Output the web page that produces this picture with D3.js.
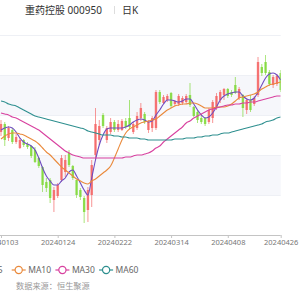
<!DOCTYPE html>
<html>
<head>
<meta charset="utf-8">
<script src="https://cdn.jsdelivr.net/npm/d3@7"></script>
<style>
  body { margin: 0; background: #fff; }
  svg { display: block; }
  text { font-family: "Noto Sans", "Noto Sans CJK SC", sans-serif; }
</style>
</head>
<body>
<div id="chart"></div>
<script>
// trading days shown on the category axis
const dates = ["20240103","20240104","20240105","20240108","20240109","20240110","20240111","20240112","20240115","20240116",
  "20240117","20240118","20240119","20240122","20240123","20240124","20240125","20240126","20240129","20240130",
  "20240131","20240201","20240202","20240205","20240206","20240207","20240208","20240219","20240220","20240221",
  "20240222","20240223","20240226","20240227","20240228","20240229","20240301","20240304","20240305","20240306",
  "20240307","20240308","20240311","20240312","20240313","20240314","20240315","20240318","20240319","20240320",
  "20240321","20240322","20240325","20240326","20240327","20240328","20240329","20240401","20240402","20240403",
  "20240408","20240409","20240410","20240411","20240412","20240415","20240416","20240417","20240418","20240419",
  "20240422","20240423","20240424","20240425","20240426"];
const tickDates = ["20240103","20240124","20240222","20240314","20240408","20240426"];

const open = [4.03,4.11,3.97,4.05,3.93,3.87,3.95,3.91,3.89,3.85,
  3.77,3.68,3.53,3.55,3.35,3.39,3.55,3.63,3.82,3.69,
  3.55,3.45,3.37,3.25,3.40,3.80,3.95,4.20,3.95,4.03,
  4.13,4.05,4.05,4.14,4.17,4.03,4.07,4.17,4.21,4.05,
  4.07,4.07,4.43,4.32,4.35,4.42,4.31,4.31,4.32,4.33,
  4.40,4.28,4.23,4.17,4.17,4.13,4.17,4.27,4.35,4.40,
  4.46,4.43,4.50,4.37,4.40,4.25,4.35,4.31,4.40,4.68,
  4.73,4.63,4.50,4.51,4.62];
const close = [4.11,3.95,4.07,3.93,3.98,3.95,3.90,3.88,3.79,3.73,
  3.69,3.50,3.47,3.37,3.45,3.50,3.77,3.75,3.70,3.57,
  3.40,3.38,3.23,3.45,3.70,4.11,4.09,4.09,4.07,4.13,
  4.05,4.11,4.14,4.08,4.08,4.11,4.19,4.27,4.13,4.13,
  4.17,4.43,4.33,4.38,4.39,4.29,4.34,4.39,4.37,4.39,
  4.30,4.19,4.15,4.13,4.11,4.25,4.33,4.39,4.43,4.46,
  4.39,4.40,4.42,4.46,4.27,4.35,4.25,4.37,4.73,4.62,
  4.62,4.51,4.58,4.59,4.45];
const high = [4.15,4.13,4.09,4.07,4.01,3.97,3.96,3.93,3.90,3.88,
  3.78,3.69,3.57,3.57,3.48,3.52,3.80,3.80,3.85,3.70,
  3.55,3.47,3.39,3.48,3.75,4.27,4.15,4.22,4.09,4.17,
  4.15,4.15,4.16,4.17,4.35,4.13,4.23,4.32,4.23,4.15,
  4.19,4.45,4.45,4.40,4.41,4.43,4.35,4.41,4.39,4.41,
  4.52,4.29,4.25,4.21,4.18,4.27,4.35,4.42,4.45,4.47,
  4.47,4.45,4.58,4.48,4.41,4.37,4.40,4.39,4.78,4.71,
  4.80,4.65,4.60,4.61,4.65];
const low = [3.99,3.89,3.94,3.91,3.91,3.86,3.88,3.86,3.77,3.72,
  3.67,3.43,3.43,3.32,3.23,3.37,3.53,3.58,3.68,3.55,
  3.37,3.35,3.12,3.13,3.28,3.75,3.90,4.07,3.92,4.01,
  4.03,4.03,4.04,4.06,4.06,4.01,4.05,4.14,4.11,4.02,
  4.03,4.05,4.31,4.31,4.33,4.27,4.29,4.29,4.30,4.31,
  4.28,4.18,4.12,4.11,4.09,4.11,4.12,4.25,4.32,4.35,
  4.37,4.38,4.41,4.35,4.18,4.21,4.23,4.29,4.38,4.59,
  4.60,4.49,4.47,4.49,4.43];

const ma5 = [4.05,4.07,4.08,4.07,4.03,3.97,3.93,3.91,3.89,3.85,
  3.77,3.67,3.59,3.54,3.50,3.50,3.54,3.57,3.63,3.65,
  3.59,3.52,3.45,3.40,3.57,3.75,3.90,4.00,4.06,4.07,
  4.07,4.07,4.07,4.08,4.10,4.13,4.15,4.16,4.15,4.13,
  4.14,4.20,4.25,4.31,4.35,4.35,4.34,4.33,4.34,4.36,
  4.36,4.31,4.25,4.20,4.17,4.18,4.22,4.28,4.35,4.39,
  4.41,4.42,4.43,4.43,4.39,4.36,4.35,4.37,4.43,4.50,
  4.57,4.61,4.62,4.60,4.55];
const ma10 = [3.96,3.99,4.01,4.02,4.02,4.01,4.00,3.98,3.96,3.94,
  3.91,3.87,3.83,3.80,3.76,3.72,3.68,3.65,3.62,3.59,
  3.56,3.54,3.52,3.51,3.54,3.56,3.59,3.62,3.65,3.69,
  3.77,3.86,3.95,4.02,4.06,4.08,4.10,4.12,4.13,4.14,
  4.15,4.16,4.19,4.22,4.25,4.27,4.29,4.30,4.31,4.31,
  4.32,4.32,4.31,4.29,4.27,4.27,4.27,4.28,4.28,4.28,
  4.29,4.31,4.34,4.37,4.38,4.39,4.40,4.41,4.43,4.46,
  4.48,4.50,4.51,4.52,4.53];
const ma30 = [4.22,4.21,4.20,4.18,4.17,4.15,4.13,4.11,4.09,4.07,
  4.05,4.02,3.99,3.96,3.93,3.90,3.87,3.84,3.82,3.80,
  3.79,3.78,3.77,3.77,3.77,3.77,3.77,3.77,3.77,3.77,
  3.77,3.77,3.77,3.78,3.78,3.79,3.80,3.80,3.81,3.82,
  3.84,3.87,3.89,3.93,3.96,3.99,4.02,4.05,4.08,4.12,
  4.14,4.17,4.19,4.21,4.23,4.25,4.26,4.27,4.28,4.29,
  4.30,4.30,4.31,4.31,4.32,4.32,4.33,4.33,4.34,4.35,
  4.36,4.37,4.38,4.39,4.39];
const ma60 = [4.34,4.33,4.31,4.30,4.29,4.27,4.25,4.23,4.21,4.19,
  4.18,4.17,4.16,4.15,4.14,4.13,4.12,4.11,4.10,4.09,
  4.08,4.07,4.06,4.04,4.03,4.02,4.01,4.00,4.00,4.00,
  3.99,3.99,3.98,3.98,3.97,3.97,3.97,3.96,3.96,3.95,
  3.95,3.95,3.95,3.95,3.95,3.95,3.96,3.96,3.96,3.97,
  3.97,3.97,3.98,3.98,3.99,3.99,4.00,4.00,4.01,4.02,
  4.02,4.03,4.04,4.05,4.06,4.07,4.08,4.09,4.10,4.11,
  4.13,4.14,4.15,4.17,4.18];

const maNames = ["MA5", "MA10", "MA30", "MA60"];
const splitValues = [3.0, 3.4, 3.8, 4.2, 4.6, 5.0];

const W = 300, H = 300;
const PLOT = { LEFT: 1, RIGHT: 280.7, TOP: 35, BOTTOM: 235 };
const UP = "#f56464", DOWN = "#80d93a";
const MA_COLORS = ["#6e4cc0", "#ea8a3c", "#d8419f", "#2e8f8f"];

const svg = d3.select("#chart").append("svg").attr("width", W).attr("height", H);
svg.append("rect").attr("width", W).attr("height", H).attr("fill", "#fff");

// title
const title = svg.append("g").attr("font-size", "10px").attr("fill", "#333");
title.append("text").attr("x", 25).attr("y", 13.5).text("重药控股 000950");
title.append("line").attr("x1", 114.5).attr("x2", 114.5).attr("y1", 6).attr("y2", 14)
  .attr("stroke", "#ddd").attr("stroke-width", 1);
title.append("text").attr("x", 122).attr("y", 13.5).text("日K");

const x = d3.scalePoint().domain(dates).range([PLOT.LEFT, PLOT.RIGHT]);
const y = d3.scaleLinear().domain([3.0, 5.0]).range([PLOT.BOTTOM, PLOT.TOP]);

// split areas + split lines
const grid = svg.append("g");
splitValues.slice(0, -1).forEach((v, i) => {
  if (i % 2 === 1) {
    grid.append("rect")
      .attr("x", -20).attr("width", PLOT.RIGHT + 20)
      .attr("y", y(v + 0.4)).attr("height", y(v) - y(v + 0.4))
      .attr("fill", "#f6f7fb");
  }
});
grid.selectAll("line").data(splitValues.slice(1)).join("line")
  .attr("x1", -20).attr("x2", PLOT.RIGHT)
  .attr("y1", d => Math.round(y(d)) + 0.5).attr("y2", d => Math.round(y(d)) + 0.5)
  .attr("stroke", "#eef0f5").attr("stroke-width", 1);

svg.append("clipPath").attr("id", "plotClip").append("rect")
  .attr("x", -20).attr("y", 0).attr("width", PLOT.RIGHT + 20).attr("height", H);

const plot = svg.append("g").attr("clip-path", "url(#plotClip)");

// candles
const bw = 2.4;
const candles = plot.selectAll("g.candle").data(dates).join("g").attr("class", "candle");
candles.append("line")
  .attr("x1", d => x(d)).attr("x2", d => x(d))
  .attr("y1", (d, i) => y(high[i])).attr("y2", (d, i) => y(low[i]))
  .attr("stroke", (d, i) => close[i] >= open[i] ? UP : DOWN)
  .attr("stroke-width", 0.8).attr("opacity", 0.85);
candles.append("rect")
  .attr("x", d => x(d) - bw / 2).attr("width", bw)
  .attr("y", (d, i) => y(Math.max(open[i], close[i])))
  .attr("height", (d, i) => Math.max(0.8, Math.abs(y(open[i]) - y(close[i]))))
  .attr("fill", (d, i) => close[i] >= open[i] ? UP : DOWN)
  .attr("opacity", 0.85);

// moving averages
const line = d3.line().x((d, i) => x(dates[i])).y(d => y(d)).curve(d3.curveMonotoneX);
[ma5, ma10, ma30, ma60].forEach((s, k) => {
  plot.append("path").datum(s).attr("d", line)
    .attr("fill", "none").attr("stroke", MA_COLORS[k]).attr("stroke-width", 1.1);
});

// x axis
const axis = d3.axisBottom(x).tickValues(tickDates).tickSize(3).tickSizeOuter(0).tickPadding(2);
const ax = svg.append("g").attr("transform", `translate(0,${PLOT.BOTTOM})`).call(axis);
ax.select(".domain").attr("stroke", "#c4c4c4").attr("d", `M-20,0.5H${PLOT.RIGHT}`);
ax.selectAll(".tick line").attr("stroke", "#c4c4c4");
ax.selectAll(".tick text").attr("fill", "#777").attr("font-size", "7.5px")
  .attr("font-family", "'Noto Sans', sans-serif");

// legend
const legend = svg.append("g").attr("transform", "translate(0,270)");
const item = legend.selectAll("g").data(maNames).join("g")
  .attr("transform", (d, i) => `translate(${-32 + i * 43.7},0)`);
item.append("line").attr("x1", 0).attr("x2", 14).attr("y1", 0).attr("y2", 0)
  .attr("stroke", (d, i) => MA_COLORS[i]).attr("stroke-width", 1.2);
item.append("circle").attr("cx", 7).attr("cy", 0).attr("r", 3.6)
  .attr("fill", "#fff").attr("stroke", (d, i) => MA_COLORS[i]).attr("stroke-width", 1.2);
item.append("text").attr("x", 16.5).attr("y", 3).attr("font-size", "8.5px").attr("fill", "#666").text(d => d);

// source
svg.append("text").attr("x", 16).attr("y", 289).attr("font-size", "8.2px").attr("fill", "#999")
  .attr("font-family", "'Noto Sans CJK SC', sans-serif").text("数据来源：恒生聚源");
</script>
</body>
</html>
